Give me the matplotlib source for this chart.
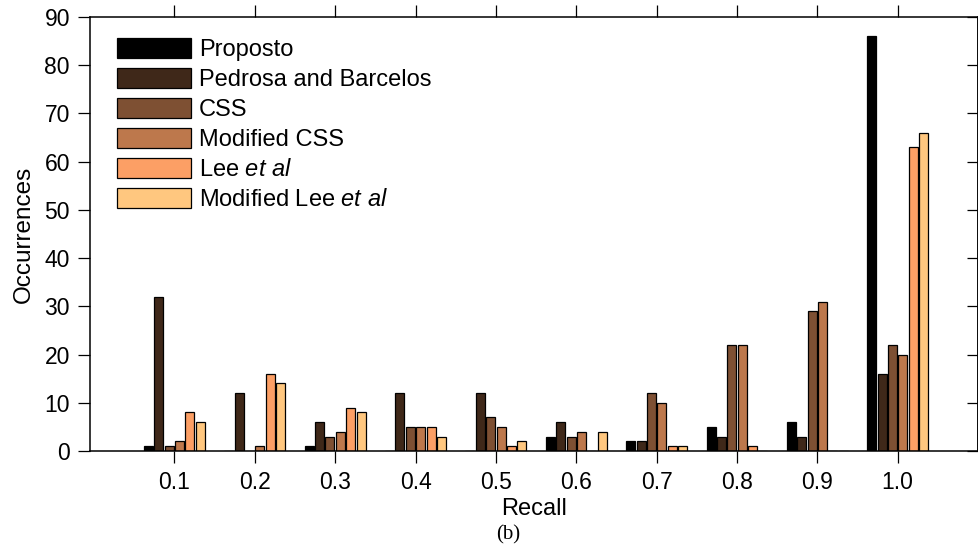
import numpy as np
import matplotlib
matplotlib.use("Agg")
import matplotlib.pyplot as plt

plt.rcParams["font.family"] = ["Liberation Sans", "DejaVu Sans"]
plt.rcParams["mathtext.fontset"] = "custom"
plt.rcParams["mathtext.rm"] = "Liberation Sans"
plt.rcParams["mathtext.it"] = "Liberation Sans:italic"

recall = ["0.1", "0.2", "0.3", "0.4", "0.5", "0.6", "0.7", "0.8", "0.9", "1.0"]
series = ["Proposto", "Pedrosa and Barcelos", "CSS", "Modified CSS",
          "Lee $\\mathit{et\\ al}$", "Modified Lee $\\mathit{et\\ al}$"]
proposto = [1, 0, 1, 0, 0, 3, 2, 5, 6, 86]
pedrosa = [32, 12, 6, 12, 12, 6, 2, 3, 3, 16]
css = [1, 0, 3, 5, 7, 3, 12, 22, 29, 22]
mod_css = [2, 1, 4, 5, 5, 4, 10, 22, 31, 20]
lee = [8, 16, 9, 5, 1, 0, 1, 1, 0, 63]
mod_lee = [6, 14, 8, 3, 2, 4, 1, 0, 0, 66]
values = [proposto, pedrosa, css, mod_css, lee, mod_lee]

colors = plt.cm.copper(np.linspace(0, 1, len(series)))

fig = plt.figure(figsize=(9.79, 5.5), dpi=100)
ax = fig.add_axes([0.092, 0.18, 0.907, 0.789])

x = np.arange(1, len(recall) + 1)
step = 0.129
width = 0.112
for i, (vals, lab) in enumerate(zip(values, series)):
    off = (i - (len(series) - 1) / 2) * step
    ax.bar(x + off, vals, width, color=colors[i], edgecolor="black",
           linewidth=0.9, label=lab)

ax.set_xlim(-0.05, 11.0)
ax.set_ylim(0, 90)
ax.set_xticks(x)
ax.set_xticklabels(recall)
ax.set_yticks(np.arange(0, 91, 10))
ax.tick_params(axis="both", labelsize=16.5, direction="out", length=8.5, width=0.9)
ax.tick_params(axis="x", top=True, pad=6)
ax.tick_params(axis="y", pad=6)
sec = ax.secondary_yaxis("right")
sec.set_yticks(np.arange(0, 91, 10))
sec.tick_params(direction="in", length=8, width=0.9, labelright=False)
for s in ax.spines.values():
    s.set_linewidth(1.1)
sec.spines["right"].set_linewidth(1.1)

ax.set_xlabel("Recall", fontsize=17, labelpad=3)
ax.set_ylabel("Occurrences", fontsize=17.5, labelpad=7)

leg = ax.legend(loc="upper left", bbox_to_anchor=(27 / 888, 1 - 21 / 434),
                frameon=False, fontsize=17, handlelength=3.13, handleheight=0.93,
                labelspacing=0.29, handletextpad=0.34, borderpad=0,
                borderaxespad=0)

fig.text(508 / 979, 0.027, "(b)", ha="center", va="center",
         fontsize=15, family="Liberation Serif")

fig.savefig("out.png", dpi=100)
